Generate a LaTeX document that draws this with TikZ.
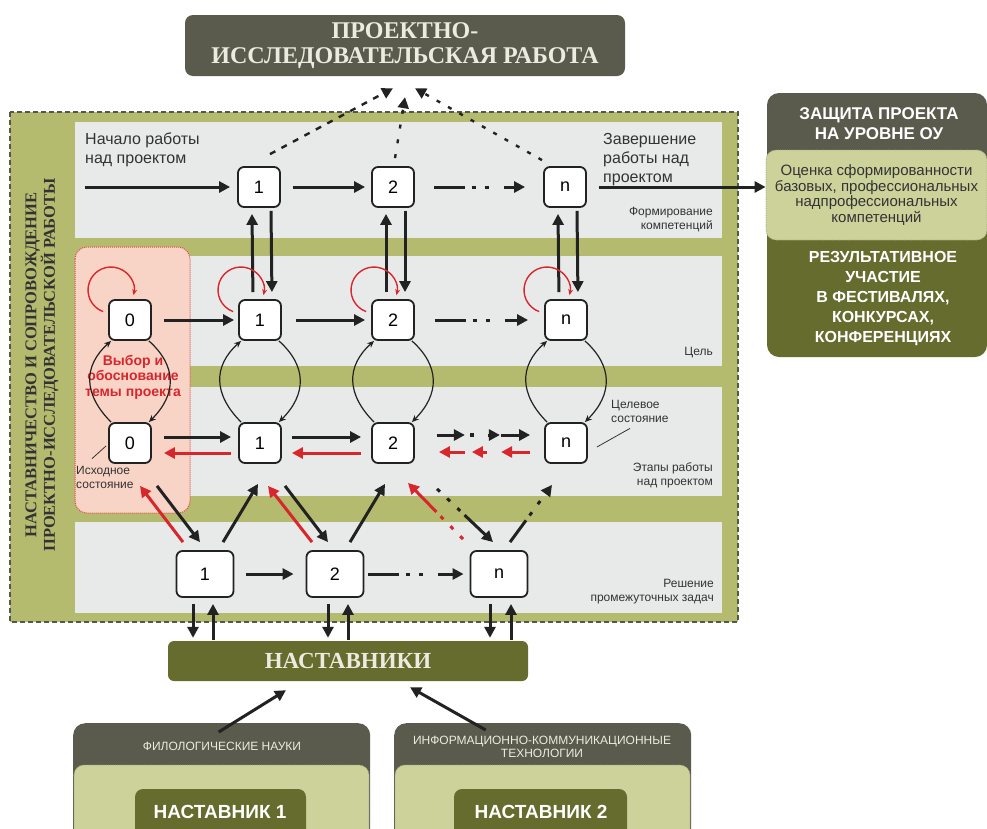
\documentclass[tikz,border=0pt]{standalone}
\usepackage{fontspec}
\usepackage{graphicx}
\setmainfont{Liberation Serif}
\setsansfont{Liberation Sans}
\usetikzlibrary{arrows.meta,calc}
\definecolor{frameolive}{HTML}{B5BB6E}
\definecolor{bandgray}{HTML}{E8E9E9}
\definecolor{boxgray}{HTML}{5A5A4D}
\definecolor{darkolive}{HTML}{666B2E}
\definecolor{lightgreen}{HTML}{CDD29B}
\definecolor{pinkfill}{HTML}{F8D4C6}
\definecolor{redarrow}{HTML}{D8262D}
\definecolor{titletext}{HTML}{ECEBE0}
\definecolor{textdark}{HTML}{333333}
\definecolor{framedash}{HTML}{55574A}
\definecolor{arrowblack}{HTML}{222222}
\tikzset{
  stbox/.style={draw=arrowblack, line width=1.8pt, rounded corners=6pt, fill=white, minimum width=42pt, minimum height=40pt, inner sep=0pt, font=\sffamily\fontsize{18}{18}\selectfont},
  bigbox/.style={stbox, minimum width=57pt, minimum height=46pt},
  tarr/.style={draw=arrowblack, line width=3pt, -{Triangle[length=11pt,width=11pt]}},
  rarr/.style={tarr, draw=redarrow},
  carr/.style={draw=arrowblack, line width=1.2pt, -{Stealth[length=7pt,width=6pt]}},
  loopr/.style={draw=redarrow, line width=1.4pt, -{Stealth[length=6pt,width=5pt]}},
  ddash/.style={dash pattern=on 31pt off 7pt on 4pt off 9pt on 4pt off 15pt on 200pt},
  dotarr/.style={tarr, line width=2.4pt},
  lab/.style={font=\sffamily\fontsize{16}{19}\selectfont, text=textdark, align=left, inner sep=0pt},
  smlab/.style={font=\sffamily\fontsize{12}{14}\selectfont, text=textdark, inner sep=0pt},
  ptr/.style={draw=textdark, line width=0.8pt},
}
\begin{document}
\begin{tikzpicture}[x=1pt,y=-1pt]
\useasboundingbox (0,0) rectangle (987,828);
% main frame
\draw[fill=frameolive, draw=framedash, line width=1.8pt, dash pattern=on 5pt off 3pt] (10,112) rectangle (738,622);
\fill[bandgray] (75,122) rectangle (722,238);
\fill[bandgray] (75,256) rectangle (722,366);
\fill[bandgray] (75,387) rectangle (722,496);
\fill[bandgray] (75,522) rectangle (722,613);
\draw[fill=pinkfill, draw=redarrow!85, densely dotted, line width=1pt, rounded corners=12pt] (75,247) rectangle (190,513);

% vertical title
\node[rotate=90, font=\rmfamily\bfseries\fontsize{16.5}{17}\selectfont, text=textdark, align=center] (vt) at (42,365) {НАСТАВНИЧЕСТВО И СОПРОВОЖДЕНИЕ\\ПРОЕКТНО-ИССЛЕДОВАТЕЛЬСКОЙ РАБОТЫ};

% top title
\node[fill=boxgray, rounded corners=8pt, minimum width=440pt, minimum height=61pt, inner sep=0pt, text=titletext, font=\rmfamily\bfseries\fontsize{24}{25}\selectfont, align=center] (top) at (405,45.5) {ПРОЕКТНО-\\ИССЛЕДОВАТЕЛЬСКАЯ РАБОТА};

% right box
\fill[boxgray, rounded corners=12pt] (767,93) rectangle (987,175);
\fill[darkolive, rounded corners=12pt] (767,220) rectangle (987,357);
\node[fill=lightgreen, draw=darkolive!60, densely dotted, line width=0.8pt, rounded corners=10pt, minimum width=221pt, minimum height=90pt, inner sep=0pt, font=\sffamily\fontsize{15}{15.5}\selectfont, text=textdark, align=center] (assess) at (876.5,195) {Оценка сформированности\\базовых, профессиональных\\надпрофессиональных\\компетенций};
\node[text=white, font=\sffamily\bfseries\fontsize{17}{20}\selectfont, align=center] (def) at (879,124) {ЗАЩИТА ПРОЕКТА\\НА УРОВНЕ ОУ};
\node[text=white, font=\sffamily\bfseries\fontsize{16}{20}\selectfont, align=center] (res) at (883,298) {РЕЗУЛЬТАТИВНОЕ\\УЧАСТИЕ\\В ФЕСТИВАЛЯХ,\\КОНКУРСАХ,\\КОНФЕРЕНЦИЯХ};

% mentors box
\node[fill=darkolive, rounded corners=6pt, minimum width=360pt, minimum height=40pt, inner sep=0pt, text=titletext, font=\rmfamily\bfseries\fontsize{23}{25}\selectfont] (nast) at (348,661) {НАСТАВНИКИ};

% bottom boxes
\node[anchor=north west, fill=boxgray, rounded corners=12pt, minimum width=297pt, minimum height=130pt, inner sep=0pt] (phil) at (73,723) {};
\draw[fill=lightgreen, draw=darkolive!60, densely dotted, line width=0.8pt, rounded corners=10pt] (74,765) rectangle (369,850);
\fill[darkolive, rounded corners=8pt] (135,789) rectangle (306,850);
\node[text=titletext, font=\sffamily\fontsize{12}{13}\selectfont] (philt) at (222,746) {ФИЛОЛОГИЧЕСКИЕ НАУКИ};
\node[text=white, font=\sffamily\bfseries\fontsize{19}{20}\selectfont] (m1) at (220,812) {НАСТАВНИК 1};

\node[anchor=north west, fill=boxgray, rounded corners=12pt, minimum width=297pt, minimum height=130pt, inner sep=0pt] (info) at (394,723) {};
\draw[fill=lightgreen, draw=darkolive!60, densely dotted, line width=0.8pt, rounded corners=10pt] (395,765) rectangle (690,850);
\fill[darkolive, rounded corners=8pt] (454,789) rectangle (627,850);
\node[text=titletext, font=\sffamily\fontsize{12}{13}\selectfont, align=center] (infot) at (542,747) {ИНФОРМАЦИОННО-КОММУНИКАЦИОННЫЕ\\ТЕХНОЛОГИИ};
\node[text=white, font=\sffamily\bfseries\fontsize{19}{20}\selectfont] (m2) at (541,812) {НАСТАВНИК 2};

% state nodes
\node[stbox] (a1) at (259,187) {1};
\node[stbox] (a2) at (393,187) {2};
\node[stbox] (an) at (565,187) {n};
\node[stbox] (b0) at (130,320) {0};
\node[stbox] (b1) at (260,320) {1};
\node[stbox] (b2) at (393,320) {2};
\node[stbox] (bn) at (566,320) {n};
\node[stbox] (c0) at (130,443) {0};
\node[stbox] (c1) at (260,443) {1};
\node[stbox] (c2) at (393,443) {2};
\node[stbox] (cn) at (566,443) {n};
\node[bigbox] (d1) at (205,574) {1};
\node[bigbox] (d2) at (335,574) {2};
\node[bigbox] (dn) at (499,574) {n};

% labels
\node[lab, anchor=west] (l1) at (85,150) {Начало работы\\над проектом};
\node[lab, anchor=west] (l2) at (603,160) {Завершение\\работы над\\проектом};
\node[smlab, align=right, anchor=east] (l3) at (713,220) {Формирование\\компетенций};
\node[smlab, align=right, anchor=east] (l4) at (713,353) {Цель};
\node[smlab, align=left, anchor=west] (lblT) at (611,411) {Целевое\\состояние};
\node[smlab, align=right, anchor=east] (l5) at (713,475) {Этапы работы\\над проектом};
\node[smlab, align=right, anchor=east] (l6) at (714,592) {Решение\\промежуточных задач};
\node[smlab, align=left, anchor=west] (lblI) at (76,477) {Исходное\\состояние};
\node[font=\sffamily\bfseries\fontsize{14}{15.5}\selectfont, text=redarrow, align=center] (choice) at (133,377) {Выбор и\\обоснование\\темы проекта};

\draw[ptr] ($(cn.east)+(9,4)$) -- ($(lblT.south west)+(19,6)$);
\draw[ptr] ($(c0.south west)+(-2,-18)$) -- ($(lblI.north west)+(16,-7)$);

% row 1
\coordinate (startpt) at (85,187);
\draw[tarr, shorten >=7pt] (startpt) -- (a1.west);
\draw[tarr, shorten <=12pt, shorten >=6pt] (a1) -- (a2);
\draw[tarr, ddash, shorten <=19pt, shorten >=18pt] (a2) -- (an);
\draw[tarr, shorten <=12pt] (an.east) -- (an.east -| assess.west);

% dotted to top
\draw[dotarr, dash pattern=on 6pt off 7pt] ($(a1.north)+(11,-12)$) -- ($(top.south)+(-12,12)$);
\draw[dotarr, dash pattern=on 4pt off 11pt] ($(a2.north)+(2,-8)$) -- ($(top.south)+(0,21)$);
\draw[dotarr, dash pattern=on 4pt off 9pt] ($(an.north)+(-23,-6)$) -- ($(top.south)+(10,12)$);

% rows 1-2 verticals
\foreach \k in {1,2,n}{
  \draw[tarr, shorten <=7pt] ([xshift=-7pt]b\k.north) -- ([xshift=-7pt,yshift=-6pt]a\k.south);
  \draw[tarr, shorten >=7pt] ([xshift=12pt,yshift=-3pt]a\k.south) -- ([xshift=12pt]b\k.north);
}

% row 2
\draw[tarr, shorten <=12pt, shorten >=4pt] (b0) -- (b1);
\draw[tarr, shorten <=14pt, shorten >=6pt] (b1) -- (b2);
\draw[tarr, ddash, shorten <=20pt, shorten >=16pt] (b2) -- (bn);
\foreach \nn in {b0,b1,b2,bn}{
  \draw[loopr] ($(\nn.center)+(-19,-30)+(110:23)$) arc[start angle=110, end angle=373, radius=23];
}

% curves rows 2-3
\foreach \k in {0,1,2,n}{
  \draw[carr] ([xshift=3pt]c\k.north west) .. controls +(-28,-28) and +(-28,25) .. ([xshift=3pt]b\k.south west);
  \draw[carr] ([xshift=-3pt]b\k.south east) .. controls +(28,25) and +(28,-28) .. ([xshift=-3pt]c\k.north east);
}

% row 3
\draw[tarr, shorten <=12pt, shorten >=7pt] ([yshift=6pt]c0.east) -- ([yshift=6pt]c1.west);
\draw[rarr, shorten <=7pt, shorten >=12pt] ([yshift=-10pt]c1.west) -- ([yshift=-10pt]c0.east);
\draw[tarr, shorten <=10pt, shorten >=10pt] ([yshift=6pt]c1.east) -- ([yshift=6pt]c2.west);
\draw[rarr, shorten <=10pt, shorten >=10pt] ([yshift=-10pt]c2.west) -- ([yshift=-10pt]c1.east);
\draw[tarr] ($(c2.east)+(22,-8)$) -- ($(c2.east)+(50,-8)$);
\fill[arrowblack] ($(c2.east)+(55,-10)$) rectangle ($(c2.east)+(59,-6)$);
\draw[tarr] ($(c2.east)+(73,-8)$) -- ($(c2.east)+(85,-8)$);
\draw[tarr] ($(cn.west)+(-43,-8)$) -- ($(cn.west)+(-14,-8)$);
\draw[rarr] ($(c2.east)+(50,9)$) -- ($(c2.east)+(24,9)$);
\draw[rarr] ($(c2.east)+(72,9)$) -- ($(c2.east)+(57,9)$);
\draw[rarr] ($(cn.west)+(-14,9)$) -- ($(cn.west)+(-43,9)$);

% diagonals rows 3-4
\draw[rarr] ($(d1.north)+(-22,-8)$) -- ($(c0.south)+(10,22)$);
\draw[tarr] ($(c0.south)+(27,22)$) -- ($(d1.north)+(-5,-8)$);
\draw[tarr] ($(d1.north)+(18,-8)$) -- ($(c1.south)+(-2,20)$);
\draw[rarr] ($(d2.north)+(-23,-8)$) -- ($(c1.south)+(8,22)$);
\draw[tarr] ($(c1.south)+(25,22)$) -- ($(d2.north)+(-7,-8)$);
\draw[tarr] ($(d2.north)+(15,-8)$) -- ($(c2.south)+(-8,20)$);
\draw[rarr, dash pattern=on 4pt off 10pt on 4pt off 10pt on 4pt off 6pt on 200pt] ($(dn.north)+(-36,-11)$) -- ($(c2.south)+(15,19)$);
\draw[tarr, dash pattern=on 4pt off 10pt on 4pt off 10pt on 4pt off 6pt on 200pt] ($(c2.south)+(44,25)$) -- ($(dn.north)+(-6,-8)$);
\draw[tarr, dash pattern=on 27pt off 6pt on 4pt off 10pt on 4pt off 30pt] ($(dn.north)+(11,-8)$) -- ($(cn.south)+(-14,21)$);

% row 4
\draw[tarr, shorten <=12pt, shorten >=12pt] (d1) -- (d2);
\draw[tarr, ddash, shorten <=4pt, shorten >=6pt] (d2) -- (dn);
\foreach \k/\dl/\ur in {1/-12/8, 2/-7/13, n/-9/12}{
  \coordinate (dd\k) at ($(d\k.south)+(\dl,0)$);
  \coordinate (uu\k) at ($(d\k.south)+(\ur,0)$);
  \draw[tarr, shorten <=6pt, shorten >=3pt] (dd\k) -- (dd\k |- nast.north);
  \draw[tarr, shorten <=1pt, shorten >=6pt] (uu\k |- nast.north) -- (uu\k);
}

% mentors arrows
\draw[tarr] ($(phil.north)+(-3,9)$) -- ($(nast.south)+(-62,9)$);
\draw[tarr] ($(info.north)+(-57,7)$) -- ($(nast.south)+(62,6)$);
\end{tikzpicture}
\end{document}
